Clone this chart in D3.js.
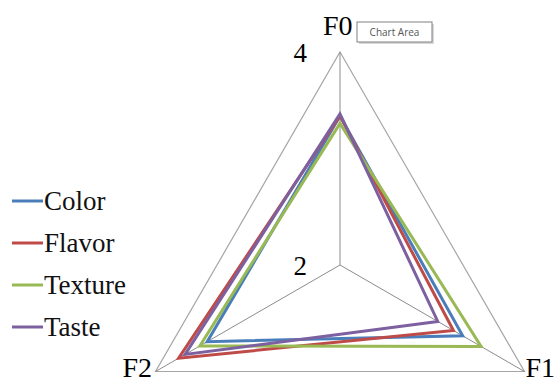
<!DOCTYPE html>
<head>
  <meta charset="utf-8">
  <script src="https://d3js.org/d3.v7.min.js"></script>
  <style>
    body { margin: 0; background: #fff; }
    svg { display: block; }
    .serif { font-family: "Liberation Serif", "Times New Roman", "DejaVu Serif", serif; }
  </style>
</head>
<body>
  <svg width="556" height="385"></svg>
  <script>
    // data
    var axes = ["F0", "F1", "F2"];
    var seriesNames = ["Color", "Flavor", "Texture", "Taste"];
    var colorVals = [3.40, 3.33, 3.44];
    var flavorVals = [3.40, 3.23, 3.75];
    var textureVals = [3.33, 3.53, 3.52];
    var tasteVals = [3.42, 3.06, 3.68];
    var tickLabels = [2, 4];
    var seriesColors = ["#4a7ebb", "#be4b48", "#98b954", "#7d60a0"];

    var series = [colorVals, flavorVals, textureVals, tasteVals];

    // layout
    var cx = 340, cy = 265, R = 213;
    var svg = d3.select('svg');

    var r = d3.scaleLinear().domain([2, 4]).range([0, R]);
    var angle = d3.scalePoint().domain(axes).range([-90, 150]);  // degrees

    function pt(axis, v) {
      var a = angle(axis) * Math.PI / 180;
      return [cx + r(v) * Math.cos(a), cy + r(v) * Math.sin(a)];
    }

    // grid: outer triangle + spokes
    svg.append('polygon')
      .attr('points', axes.map(function(a) { return pt(a, 4); }).join(' '))
      .attr('fill', 'none')
      .attr('stroke', '#a6a6a6')
      .attr('stroke-width', 1.2);

    svg.selectAll('line.spoke')
      .data(axes)
      .enter().append('line')
      .attr('class', 'spoke')
      .attr('x1', cx).attr('y1', cy)
      .attr('x2', function(a) { return pt(a, 4)[0]; })
      .attr('y2', function(a) { return pt(a, 4)[1]; })
      .attr('stroke', '#8c8c8c')
      .attr('stroke-width', 1);

    // series
    svg.selectAll('polygon.series')
      .data(series)
      .enter().append('polygon')
      .attr('class', 'series')
      .attr('points', function(d) {
        return axes.map(function(a, i) { return pt(a, d[i]); }).join(' ');
      })
      .attr('fill', 'none')
      .attr('stroke', function(d, i) { return seriesColors[i]; })
      .attr('stroke-width', 3)
      .attr('stroke-linejoin', 'miter');

    // tick labels
    svg.selectAll('text.tick')
      .data(tickLabels)
      .enter().append('text')
      .attr('class', 'tick serif')
      .attr('x', cx - 33)
      .attr('y', function(d) { return cy - r(d) + 10; })
      .attr('text-anchor', 'end')
      .attr('font-size', 27)
      .text(function(d) { return d; });

    // axis labels
    var axisLabelPos = { F0: [323, 35, 'start'], F1: [555, 377, 'end'], F2: [152, 377, 'end'] };
    svg.selectAll('text.axis')
      .data(axes)
      .enter().append('text')
      .attr('class', 'axis serif')
      .attr('x', function(a) { return axisLabelPos[a][0]; })
      .attr('y', function(a) { return axisLabelPos[a][1]; })
      .attr('text-anchor', function(a) { return axisLabelPos[a][2]; })
      .attr('font-size', 28)
      .text(function(a) { return a; });

    // legend
    var legend = svg.selectAll('g.legend')
      .data(seriesNames)
      .enter().append('g')
      .attr('class', 'legend')
      .attr('transform', function(d, i) { return 'translate(12,' + (201 + i * 42) + ')'; });
    legend.append('line')
      .attr('x1', 0).attr('x2', 31)
      .attr('stroke', function(d, i) { return seriesColors[i]; })
      .attr('stroke-width', 3);
    legend.append('text')
      .attr('class', 'serif')
      .attr('x', 32)
      .attr('y', 9)
      .attr('font-size', 27)
      .attr('fill', '#111')
      .text(function(d) { return d; });

    // "Chart Area" tooltip
    var tip = svg.append('g').attr('transform', 'translate(357,22)');
    tip.append('rect')
      .attr('x', 2).attr('y', 2).attr('width', 75).attr('height', 20)
      .attr('fill', '#d8d8d8');
    tip.append('rect')
      .attr('width', 75).attr('height', 20)
      .attr('fill', '#fff')
      .attr('stroke', '#808080')
      .attr('stroke-width', 1);
    tip.append('text')
      .attr('x', 37.5).attr('y', 14)
      .attr('text-anchor', 'middle')
      .attr('font-family', 'Open Sans, DejaVu Sans, sans-serif')
      .attr('font-size', 10)
      .attr('fill', '#555')
      .text('Chart Area');
  </script>
</body>
</html>
